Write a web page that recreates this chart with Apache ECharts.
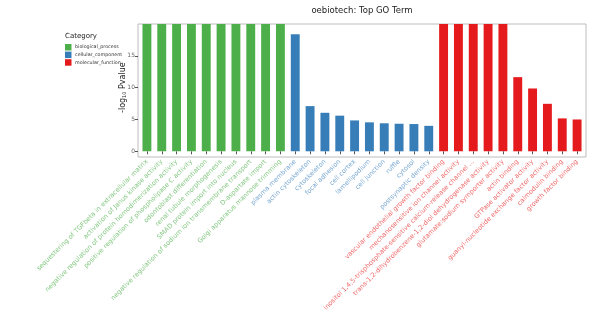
<!DOCTYPE html>
<html><head><meta charset="utf-8">
<script src="https://cdn.jsdelivr.net/npm/echarts@6/dist/echarts.min.js"></script>
<style>html,body{margin:0;padding:0;background:#fff}#c{width:600px;height:333px}</style>
</head><body><div id="c"></div>
<script>
const bpTerms = ["sequestering of TGFbeta in extracellular matrix","activation of Janus kinase activity","negative regulation of protein homodimerization activity","positive regulation of phospholipase C activity","odontoblast differentiation","renal tubule morphogenesis","SMAD protein import into nucleus","negative regulation of sodium ion transmembrane transport","D-aspartate import","Golgi apparatus mannose trimming"];
const bpValues = [20,20,20,20,20,20,20,20,20,20];
const ccTerms = ["plasma membrane","actin cytoskeleton","cytoskeleton","focal adhesion","cell cortex","lamellipodium","cell junction","ruffle","cytosol","postsynaptic density"];
const ccValues = [18.4,7.1,6.05,5.6,4.85,4.55,4.4,4.33,4.28,4.0];
const mfTerms = ["vascular endothelial growth factor binding","mechanosensitive ion channel activity","inositol 1,4,5-trisphosphate-sensitive calcium-release channel ...","trans-1,2-dihydrobenzene-1,2-diol dehydrogenase activity","glutamate:sodium symporter activity","actin binding","GTPase activator activity","guanyl-nucleotide exchange factor activity","calmodulin binding","growth factor binding"];
const mfValues = [20,20,20,20,20,11.65,9.87,7.46,5.17,5.0];
const categoryNames = ["biological_process","cellular_component","molecular_function"];
const yTicks = [0,5,10,15,20];

const colors = ["#4DAF4A","#377EB8","#E41A1C"];
const labelColors = ["#86c984","#7aa8d2","#ee6a6b"];
const allTerms = bpTerms.concat(ccTerms, mfTerms);
const groupOf = allTerms.map((t,i)=> i < bpTerms.length ? 0 : (i < bpTerms.length+ccTerms.length ? 1 : 2));
const groups = [bpValues, ccValues, mfValues];
const seriesData = groups.map((vals,g)=> allTerms.map((t,i)=>{
  if (groupOf[i] !== g) return '-';
  let off = g===0?0:(g===1?bpTerms.length:bpTerms.length+ccTerms.length);
  return vals[i-off];
}));

const FONT = "DejaVu Sans";
const chart = echarts.init(document.getElementById('c'), null, {renderer:'canvas'});
chart.setOption({
  animation:false,
  textStyle:{fontFamily:FONT},
  title:[
    {text:"oebiotech: Top GO Term", left:362, top:6, padding:0, textAlign:'center',
     textStyle:{fontSize:8.5, fontWeight:'normal', color:'#222', fontFamily:FONT}},
    {text:"Category", left:65, top:32.5, padding:0, textStyle:{fontSize:7, fontWeight:'normal', color:'#222', fontFamily:FONT}}
  ],
  legend:{orient:'vertical', left:65, top:44, padding:0, itemWidth:6.5, itemHeight:6.5, itemGap:1.1, icon:'rect',
    data:categoryNames, textStyle:{fontSize:4.8, color:'#333', fontFamily:FONT, padding:[0,0,0,-1.5]}},
  grid:[
    {left:138, right:14, top:24, bottom:176, show:true, borderColor:'#bdbdbd', borderWidth:1, backgroundColor:'transparent'},
    {left:139.5, right:15.5, top:24, bottom:181.7}
  ],
  xAxis:[
    {type:'value', gridIndex:0, show:false, min:0, max:1},
    {type:'category', gridIndex:1, data:allTerms, offset:5.4,
     axisLine:{show:false}, axisTick:{show:true, alignWithLabel:true, length:3, lineStyle:{color:'#555'}},
     axisLabel:{interval:0, rotate:45, fontSize:6.5, margin:4, fontFamily:FONT,
       color:function(v,i){ return labelColors[groupOf[i]]; }}}
  ],
  yAxis:[
    {type:'value', gridIndex:0, show:false, min:0, max:1},
    {type:'value', gridIndex:1, min:yTicks[0], max:yTicks[yTicks.length-1], interval:5, offset:1.5,
     name:"{a|-log}{s|10}{a| Pvalue}", nameLocation:'middle', nameRotate:90, nameGap:11, nameMoveOverlap:false,
     nameTextStyle:{rich:{a:{fontSize:8, color:'#222', fontFamily:FONT}, s:{fontSize:5, color:'#222', fontFamily:FONT, padding:[4,0,0,0]}}},
     axisLine:{show:false}, axisTick:{show:true, length:3, lineStyle:{color:'#555'}},
     splitLine:{show:false},
     axisLabel:{fontSize:6, color:'#666', margin:3, showMaxLabel:false, fontFamily:FONT}}
  ],
  series: categoryNames.map((n,g)=>({
    name:n, type:'bar', xAxisIndex:1, yAxisIndex:1, data:seriesData[g],
    barWidth:'60%', barGap:'-100%', itemStyle:{color:colors[g]}
  }))
});
</script></body></html>
